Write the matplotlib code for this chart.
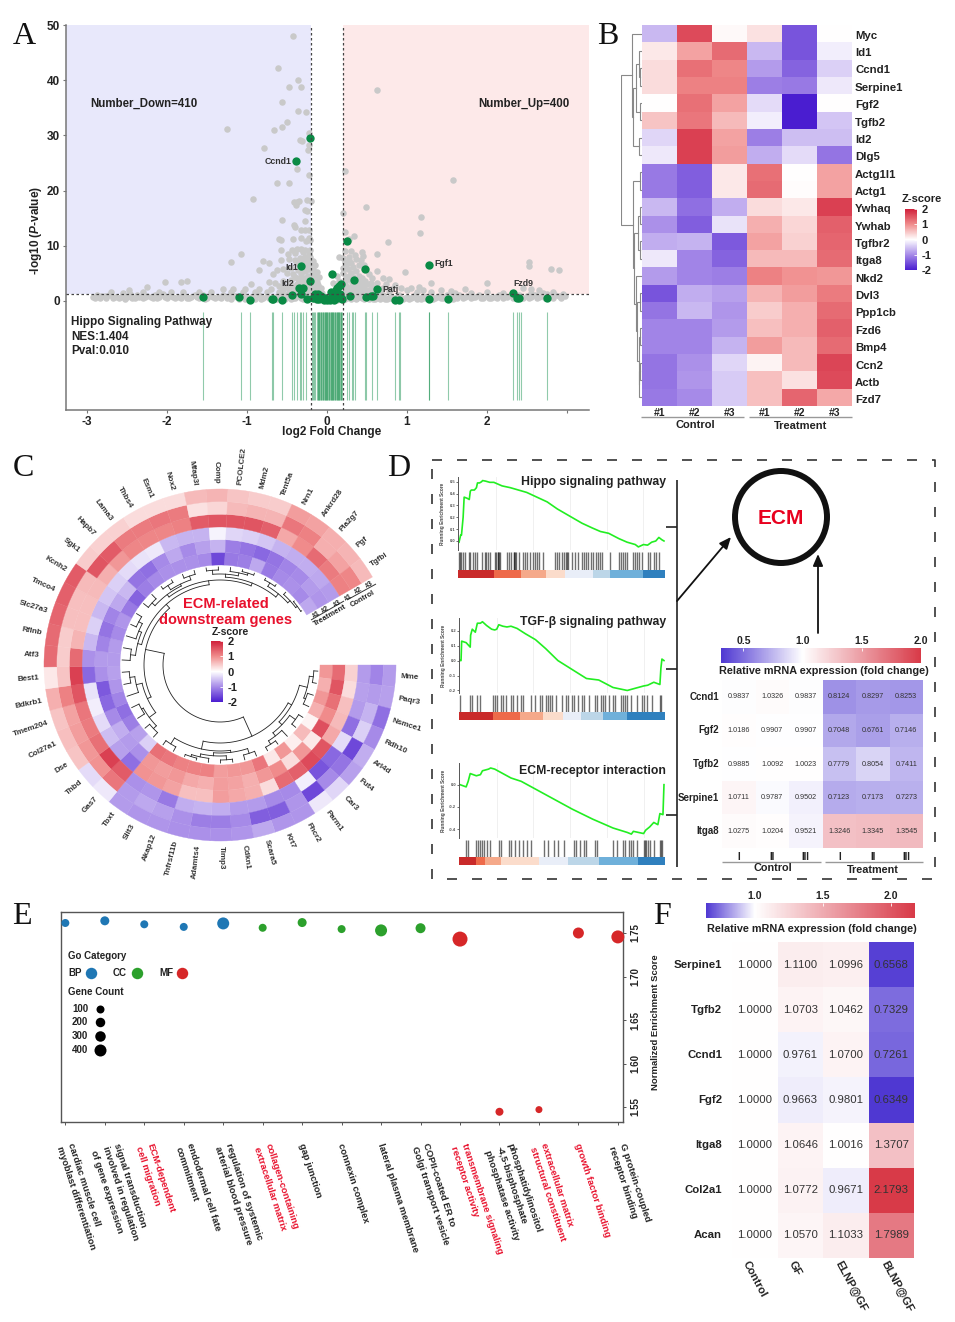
import numpy as np
import matplotlib
matplotlib.use("Agg")
import matplotlib.pyplot as plt
from matplotlib.colors import LinearSegmentedColormap, TwoSlopeNorm, Normalize
from matplotlib.cm import ScalarMappable
from matplotlib.patches import Rectangle, Circle

W, H = 955, 1322
plt.rcParams['font.family'] = ['Liberation Sans', 'DejaVu Sans']
plt.rcParams['font.weight'] = 'bold'
plt.rcParams['axes.unicode_minus'] = False
plt.rcParams['mathtext.fontset'] = 'custom'
plt.rcParams['mathtext.rm'] = 'Liberation Sans:bold'
plt.rcParams['mathtext.it'] = 'Liberation Sans:italic:bold'
plt.rcParams['mathtext.bf'] = 'Liberation Sans:bold'
TXT = '#222222'

# ---------- Panel A data ----------
green_pts = [(-1.55,.8),(-1.10,.7),(-.96,.25),(-.69,.35),(-.68,.3),(-.56,.25),(-.44,1.0),(-.39,25.3),(-.33,6.4),(-.35,2.3),
             (-.30,2.4),(-.32,1.2),(-.25,.35),(-.21,29.5),(-.21,3.7),(.06,4.9),(.25,10.8),(.48,5.8),(.34,3.8),(.63,2.1),
             (.49,.8),(.55,.9),(.58,.95),(.29,.9),(1.27,6.5),(1.28,.35),(1.51,.4),(2.32,1.45),(2.37,.5),(2.40,.5),(2.75,.6),
             (.85,.25),(.90,.25),(-.17,.5),(-.15,1.3),(-.13,.4),(-.11,1.2),(-.10,.3),(-.08,.9),(-.06,.5),(-.04,.2),(-.02,.6),
             (0,.1),(.02,.3),(.04,.2),(.05,1.7),(.07,.4),(.08,1.2),(.09,.2),(.11,2.0),(.12,.5),(.13,2.4),(.15,2.7),(.17,3.0),
             (.18,.6),(.19,.3),(.16,1.2)]
gray_pts = [(-.42,48),(-.61,42.3),(-.36,40),(-.47,38.7),(-.32,38.7),(.62,38.2),(-.56,36),(-.36,34.5),(-.26,34.2),(-.5,32.5),
            (-.56,31.5),(-.66,31),(-1.25,31.2),(-.23,30.4),(-.34,29.1),(-.31,28.9),(-.79,27.7),(-.23,28.2),(-.24,27.3),(-.38,24),
            (.22,23.5),(-.23,22.8),(-.62,21.4),(-.47,21.3),(1.58,21.9),(-.92,18.4),(-.41,17.9),(-.38,18),(-.35,18.2),(-.25,18.3),
            (-.2,18.2),(-.39,17.4),(-.27,16.4),(-.25,16.3),(.2,16),(.49,17),(1.17,15.2),(1.16,12.3),(-.56,14.7),(-.27,14.5),
            (-.41,13.8),(-.4,13.4),(-.32,12.8),(-.27,12.8),(-.22,12.8),(.22,12.5),(-.22,11.5),(-.6,11.3),(-.58,11),(-.42,11.3),
            (-.32,11.4),(-.26,10.9),(-.21,11),(.34,11.7),(.28,11.2),(.76,10.7),(-.58,9.2),(-.44,9.3),(-.38,9.4),(-.33,9.4),
            (-.27,9.3),(-.21,9.2),(-.49,8.6),(-.4,8.7),(-.3,8.8),(-.23,8.6),(-1.07,8.5),(-1.2,7),(.62,8.6),(.44,8.8),(.3,9),
            (.22,9),(.35,8.4),(.45,8.2),(.27,8),(.15,8),(.2,7.8),(-.8,7.2),(-.72,6.8),(-.58,7.5),(-.48,7.6),(-.4,7.4),(-.3,7.5),
            (-.24,7.6),(-.18,7.2),(-.15,6.6),(-.37,6.8),(-.28,6.5),(-.2,6.2),(-.85,5.7),(-.62,5.6),(-.55,5.8),(-.45,6),(-.36,5.6),
            (-.27,5.4),(-.19,5.4),(-.13,5.2),(-.68,4.9),(-.5,5),(-.42,4.9),(-.33,4.8),(-.24,4.6),(-.16,4.6),(-.1,4.4),(.13,4.5),
            (.2,5),(.26,5.8),(.33,6.2),(.4,6.6),(.46,6.5),(.63,5.4),(.98,5.3),(.3,5),(.4,4.6),(.52,4.8),(.56,4.2),(.7,4.2),(.78,3.9),
            (1.3,3.3),(2.0,3.2),(-1.75,3.6),(-1.82,3.4),(-2.02,3.4),(-2.25,2.5),(-.95,3),(-.72,3.4),(-.65,3.2),(-.55,3.6),(-.45,3.8),
            (-.36,3.9),(-.28,3.5),(-.18,3.6),(-.12,3.4),(.08,3.3),(.15,3.6),(.23,3.4),(.28,3.9),(.4,3.6),(.48,3.6),(.55,3.3),(.62,3.2),
            (.74,3),(.85,2.9),(.93,2.3),(1.05,2.3),(1.15,2.6),(-.6,2.8),(-.5,2.6),(-.42,2.8),(-.25,2.8),(-.14,2.6),(-.08,2.4),(.24,2.7),
            (.33,2.6),(.44,2.8),(.56,2.6),(.7,2.4),(.8,2.2),(-1.3,2.2),(-1.18,2.1),(-1.02,2.2),(-.85,2.2),(-.7,2.1),(-.55,2.1),(-.38,2.2),
            (-.2,2.2),(.26,2),(.4,2.1),(.52,2),(.66,1.9),(.78,1.8),(1,1.9),(1.2,2),(1.42,2),(1.55,1.8),(1.73,2.2),(2.45,2.4),(2.55,2.1),
            (2.65,1.9),(2.52,7),(2.52,6.4),(2.8,5.8),(2.9,5.7),(2.82,1.6),(-2.48,1.9),(-2.7,1.6),(-2.55,1.5),(-2.3,1.7),(-2.1,1.6),(-1.95,1.6),
            (-1.8,1.7),(-1.6,1.7),(-1.45,1.6),(-1.2,1.7),(-1.05,1.6),(-.9,1.7),(-.75,1.7),(-.6,1.6),(-.48,1.7),(1.12,1.6),(1.3,1.6),(1.6,1.5),
            (1.8,1.5),(2.0,1.6),(2.2,1.5),(2.55,1.5),(2.7,1.5),
            (-2.92,.7),(-2.88,1.0),(-2.84,.6),(-2.78,.9),(-2.72,1.1),(-2.65,.8),(-2.6,.6),(-2.55,1.0),(-2.5,.7),(-2.46,1.2),(-2.4,.6),(-2.35,.8),
            (-2.3,.5),(-2.25,.9),(-2.2,.7),(-2.15,1.1),(-2.1,.8),(-2.05,1.2),(-2.0,.6),(-1.95,.9),(-1.9,.5),(-1.85,.7),(-1.8,1.0),(-1.75,.6),
            (-1.7,.8),(-1.65,1.1),(-1.6,.5),(-1.55,1.0),(-1.5,.6),(-1.45,.9),(-1.4,.5),(-1.35,.8),(-1.3,1.1),(-1.25,.6),(-1.2,.4),(-1.15,.9),
            (-1.1,.4),(-1.05,1.0),(-1.0,.5),(-.95,.8),(-.9,.3),(-.85,1.1),(-.8,.5),(-.75,.9),(-.7,.3),(-.65,.7),(-.6,1.1),(-.55,.5),(-.5,.8),
            (-.45,.3),(-.4,.6),(-.35,.9),(-.3,.3),(-.25,1.0),(-.2,.5),(-.18,.9),(-.14,.2),(-.1,.6),(-.06,.9),(-.02,.25),(.03,.7),(.06,.25),
            (.1,.9),(.14,.3),(.18,1.0),(.22,.4),(.26,.7),(.3,.3),(.34,1.0),(.38,.5),(.42,.9),(.46,.3),(.5,.5),(.54,1.1),(.58,.3),(.62,.7),
            (.66,.4),(.7,1.0),(.75,.4),(.8,.8),(.85,.5),(.9,1.1),(.95,.4),(1.0,.8),(1.05,.5),(1.1,1.1),(1.15,.6),(1.2,.9),(1.25,.5),(1.3,1.0),
            (1.35,.6),(1.4,.9),(1.45,.5),(1.5,1.1),(1.55,.6),(1.6,.8),(1.65,1.1),(1.7,.6),(1.75,.9),(1.8,.5),(1.85,.8),(1.9,1.1),(1.95,.6),
            (2.0,.9),(2.05,.5),(2.1,.8),(2.15,1.0),(2.2,.6),(2.25,.7),(2.3,1.0),(2.35,.7),(2.4,1.0),(2.45,.6),(2.5,.9),(2.55,.7),(2.6,1.1),
            (2.65,.7),(2.7,.9),(2.75,1.2),(2.8,.8),(2.85,1.1),(2.9,.9),(2.95,1.3),(2.98,.9)]
gray_extra = [(-2.9,.5),(-2.82,.9),(-2.76,.5),(-2.68,.6),(-2.58,.8),(-2.52,.4),(-2.44,.5),(-2.38,1.0),(-2.28,.7),(-2.18,.5),(-2.12,.5),(-2.02,.8),
              (-1.92,.7),(-1.82,.5),(-1.72,.5),(-1.62,.8),(-1.52,.4),(-1.42,.7),(-1.32,.5),(-1.22,.8),(-1.12,.8),(-1.02,.3),(-.92,.8),(-.82,.3),(-.72,.6),
              (-.62,.4),(-.52,.3),(-.42,.5),(-.32,.6),(-.22,.3),(-.16,.4),(-.12,.8),(-.08,.3),(-.04,.7),(.01,.3),(.08,.6),(.12,.2),(.16,.5),(.2,.2),(.24,1.0),
              (.28,.5),(.32,.7),(.36,.3),(.4,.7),(.44,.5),(.48,1.1),(.52,.3),(.56,.6),(.6,.4),(.64,1.0),(.68,.7),(.72,.3),(.78,.6),(.82,.3),(.88,.8),(.92,.3),
              (.98,.5),(1.02,.3),(1.08,.8),(1.12,.4),(1.18,.4),(1.22,.6),(1.32,.4),(1.38,.8),(1.42,.5),(1.48,.7),(1.58,.4),(1.62,.6),(1.72,.8),(1.82,.7),(1.92,.5),
              (2.02,.6),(2.12,.5),(2.22,.9),(2.32,.5),(2.42,.7),(2.52,.5),(2.62,.6),(2.72,.6),(2.82,.6),(2.92,.6),
              (-.55,1.3),(-.48,1.4),(-.42,1.6),(-.36,1.5),(-.3,1.7),(-.26,1.4),(-.22,1.7),(-.18,1.5),(-.14,1.8),(-.1,1.5),(-.06,1.4),(.22,1.4),(.26,1.6),(.3,1.5),
              (.34,1.8),(.38,1.4),(.42,1.6),(.46,1.4),(.5,1.7),(.55,1.5),(.6,1.5),(.68,1.5),(-.38,3.1),(-.32,3.2),(-.26,3.1),(-.2,3),(-.16,2.9),(-.11,2.9),
              (-.46,3.2),(-.34,4.2),(-.28,4.1),(-.2,4.2),(-.15,3.9),(-.4,4.4),(-.24,5.8),(-.17,5.8),(-.3,5.9),(-.26,6.9),(-.2,6.9),(-.34,7.8),(-.27,8),(-.21,8),
              (.22,2.4),(.27,2.4),(.31,3.2),(.36,3),(.42,3.1),(.5,3.1),(.24,4.3),(.27,4.6),(.33,4.3),(.44,4.1),(.2,6),(.24,6.5),(.3,6.8),(.36,5.5),(.22,7),(.28,7.4),(.36,7.6),
              (.42,7.4),(-.15,2.1),(-.1,2.1),(.3,2.2),(.36,2.3),(.46,2.3),(-.55,2.4),(-.47,2.3),(-.33,2.5),(-.28,2.2)]
rug_x = [-1.55,-1.08,-.96,-.69,-.68,-.56,-.44,-.41,-.38,-.34,-.33,-.30,-.26,-.19,-.18,-.165,-.15,-.13,-.115,-.11,-.10,-.095,-.085,-.08,
         -.07,-.065,-.05,-.045,-.04,-.03,-.02,-.015,-.01,0,.005,.015,.02,.03,.035,.045,.05,.06,.065,.07,.08,.085,.095,.10,.11,.12,.125,
         .135,.14,.15,.155,.165,.17,.18,.19,.25,.28,.31,.33,.35,.48,.49,.56,.63,.85,.90,.91,1.27,1.28,1.51,2.32,2.37,2.40,2.42,2.75]
volcano_labels = [('Ccnd1',278,161),('Id1',292,267),('Id2',288,283),('Patj',390,289),('Fgf1',444,264),('Fzd9',523,284)]

# ---------- Panel B data ----------
b_genes = ['Myc','Id1','Ccnd1','Serpine1','Fgf2','Tgfb2','Id2','Dlg5','Actg1l1','Actg1','Ywhaq','Ywhab','Tgfbr2','Itga8','Nkd2',
           'Dvl3','Ppp1cb','Fzd6','Bmp4','Ccn2','Actb','Fzd7']
b_vals = [[-.6,1.6,.05,.25,-1.5,0],[.2,.8,1.3,-.6,-1.5,-.15],[.3,1.25,1.05,-.85,-1.35,-.4],[.3,1.1,1.1,-1.1,-1.15,-.2],
          [0,1.25,.8,-.3,-2,0],[.5,1.2,.6,-.15,-2,-.5],[-.35,1.7,.8,-1.1,-.55,-.55],[-.2,1.7,.85,-.7,-.3,-1.2],
          [-1.15,-1.4,.2,1.25,0,.8],[-1.15,-1.4,.2,1.3,.02,.8],[-.6,-1.25,-.7,.3,.2,1.7],[-.95,-1.4,-.25,.7,.35,1.4],
          [-.7,-.65,-1.45,.8,.4,1.35],[-.2,-1.05,-1.35,.6,.6,1.3],[-.85,-1.05,-1.1,1.1,.95,.9],[-1.5,-.7,-.8,.65,.85,1.15],
          [-1.2,-.6,-.9,.45,.7,1.3],[-1.05,-1.05,-.85,.55,.7,1.4],[-1.05,-1.05,-.65,.85,.6,1.3],[-1.2,-.95,-.35,.1,.6,1.65],
          [-1.2,-.9,-.45,.55,.25,1.6],[-1.15,-1,-.45,.55,1.35,.75]]
b_tree = (1.0,(.48,0,(.42,(.3,(.12,1,(.1,2,3)),(.1,4,5)),(.12,6,7))),
          (.45,(.08,8,9),(.38,(.2,(.1,10,11),(.1,12,13)),(.3,14,(.22,(.1,15,16),(.15,(.08,17,18),(.12,(.1,19,20),21)))))))

# ---------- Panel C data ----------
c_genes = ['Mme','Paqr3','Nsmce1','Rdh10','Arl4d','Fut4','Car3','Parm1','Fhcr2','Krt7','Scara5','Cdkn1','Timp3','Adamts4','Tnfrsf11b',
           'Akap12','Slit3','Tbxt','Gas7','Thbd','Dse','Col27a1','Tmem204','Bdkrb1','Best1','Atf3','Rflnb','Slc27a3','Tmco4','Kcnh2',
           'Sgk1','Hapb7','Lama3','Thbs4','Esm1','Nox2','Mfap3l','Comp','PCOLCE2','Mdm2','Tent5a','Nrn1','Ankrd28','Pla2g7','Pgf','Tgfbi']
c_vals = [[.9,1.3,.4,-.85,-1.05,-.85],[.7,1.5,.3,-.8,-.85,-.8],[.9,1.25,.55,-.85,-.65,-1.25],[.7,1.0,.6,-1.25,-.4,-1.0],
          [.1,1.55,.75,-.3,-1.6,-.7],[.6,.2,1.5,-1.3,-1.2,-.8],[.15,.9,1.6,-1.5,-1.0,-.35],[.9,.3,1.4,-.15,-1.6,-.2],
          [.2,1.0,1.3,-1.0,-.9,-.9],[1.2,.9,.3,-1.0,-1.4,-.9],[.9,.7,.7,-.85,-1.4,-.75],[.9,.8,.75,-.85,-1.0,-.9],
          [.85,.85,.85,-.7,-1.1,-.95],[1.1,.7,.55,-.65,-1.1,-.95],[1.1,.75,.55,-.7,-.95,-.95],[1.1,.9,.8,-1.15,-.8,-.9],
          [1.2,.85,.9,-.9,-.75,-.9],[1.25,.9,.95,-.95,-.85,-.85],[-.4,-.95,-1.25,1.45,1.2,-.2],[-.8,-.85,-.8,1.7,.95,-.3],
          [-1.1,-.7,-.55,1.25,.9,.5],[-1.25,-1.0,-.3,1.15,.85,.55],[-1.05,-1.3,-.15,1.2,.8,.5],[-.9,-1.45,-.25,1.5,1.1,.7],
          [-.8,-.95,-1.3,1.7,.5,.2],[-.85,-.85,-.95,1.3,.45,1.3],[-.85,-1.05,-.6,.65,.45,1.3],[-1.0,-1.2,-.4,.55,.55,1.35],
          [-.9,-1.05,-.6,.55,.55,1.4],[-1.15,-.75,-.5,.6,.6,1.45],[-1.35,-.6,-.4,.7,1.5,.45],[-1.1,-1.2,-.3,.9,1.45,.4],
          [-1.0,-1.25,-.25,1.05,1.15,.4],[-.95,-1.0,-.2,1.05,1.15,.3],[-.95,-.75,-.6,1.05,1.2,.3],[-.95,-1.0,-.65,1.1,1.15,.3],
          [-1.0,-.8,-.65,1.45,.25,.6],[-1.6,-.65,-.1,1.5,.35,.65],[-1.15,-1.1,-.35,1.5,.6,.5],[-1.1,-1.2,-.4,1.5,.65,.45],
          [-.75,-1.3,-.5,1.4,.65,.45],[-1.15,-1.2,-.65,.75,1.2,.85],[-1.0,-1.05,-.7,1.0,1.1,.8],[-.95,-1.0,-.7,1.3,.7,.7],
          [-1.0,-.85,-.75,1.15,.8,.65],[-.75,-.9,-.85,1.1,1.05,.6]]
c_tree = (57,(78,(82,(90,(94,0,1),(92,2,3)),(86,(93,4,5),(90,6,(94,7,8)))),
              (86,(88,(93,9,10),(91,(95,11,12),(94,13,(96,14,15)))),(93,16,17))),
          (76,(80,(88,(92,18,19),(90,20,21)),(86,22,(91,23,24))),
              (81,(85,(90,25,26),(88,27,(92,28,29))),
                  (85,(88,(92,30,31),(90,(95,32,33),(94,34,35))),
                      (88,(91,(95,36,37),(94,38,(96,39,40))),(92,(96,41,42),(95,43,(97,44,45))))))))

# ---------- Panel D data ----------
gsea_titles = ['Hippo signaling pathway','TGF-\u03b2 signaling pathway','ECM-receptor interaction']
es1 = [(0,-.01),(.008,.05),(.012,.05),(.02,.2),(.025,.37),(.04,.36),(.05,.35),(.055,.42),(.06,.43),(.075,.43),(.085,.45),(.09,.49),(.1,.49),
       (.11,.5),(.115,.51),(.13,.505),(.15,.495),(.17,.495),(.19,.48),(.21,.465),(.25,.45),(.29,.43),(.33,.41),(.38,.37),(.43,.33),(.48,.27),
       (.55,.2),(.6,.15),(.65,.11),(.69,.08),(.73,.065),(.78,.02),(.82,-.01),(.86,-.03),(.875,-.05),(.9,-.03),(.92,-.035),(.94,-.01),(.96,0),
       (.975,.03),(.99,.01),(1,0)]
es2 = [(0,0),(.005,0),(.008,.13),(.03,.12),(.05,.09),(.052,.17),(.06,.21),(.075,.19),(.085,.25),(.1,.25),(.11,.26),(.13,.235),(.155,.21),
       (.17,.205),(.18,.21),(.19,.24),(.21,.23),(.23,.225),(.25,.23),(.28,.215),(.32,.18),(.37,.14),(.42,.08),(.48,0),(.55,-.06),(.62,-.12),
       (.68,-.13),(.75,-.18),(.82,-.2),(.86,-.185),(.9,-.17),(.92,-.165),(.95,-.145),(.98,-.16),(.985,-.05),(.99,.01),(1,0)]
es3 = [(0,0),(.03,-.02),(.04,.03),(.05,.1),(.08,.08),(.1,.09),(.11,.125),(.14,.14),(.15,.15),(.17,.14),(.2,.11),(.25,.06),(.3,.03),(.35,-.02),
       (.45,-.12),(.55,-.22),(.65,-.31),(.75,-.39),(.82,-.43),(.84,-.445),(.85,-.42),(.9,-.44),(.91,-.41),(.93,-.38),(.95,-.34),(.97,-.36),
       (.98,-.26),(.995,-.27),(1,0)]
rug1 = [.0,.005,.01,.02,.03,.05,.055,.07,.08,.09,.11,.125,.13,.14,.15,.175,.18,.19,.195,.2,.19,.235,.245,.255,.27,.275,.28,.27,.295,.31,.32,.33,.345,
        .36,.37,.38,.39,.41,.47,.48,.49,.5,.51,.52,.525,.53,.55,.565,.58,.6,.61,.62,.63,.645,.655,.67,.68,.69,.7,.735,.78,.79,.8,.81,.82,.85,.86,
        .87,.88,.895,.92,.93,.95,.96,.975]
rug2 = [.0,.05,.06,.085,.1,.16,.17,.18,.2,.21,.225,.25,.26,.28,.3,.31,.35,.37,.39,.4,.42,.43,.44,.45,.47,.5,.52,.53,.55,.56,.58,.6,.61,.63,.66,.67,.69,
        .7,.71,.73,.75,.76,.79,.8,.81,.82,.84,.87,.89,.9,.915,.94,.98,.985]
rug3 = [.03,.04,.08,.09,.1,.11,.12,.13,.145,.19,.2,.24,.25,.27,.29,.31,.33,.35,.41,.43,.46,.48,.51,.56,.57,.59,.61,.62,.66,.67,.75,.77,.8,.81,.83,.84,
        .85,.87,.9,.905,.91,.92,.93,.95,.98,.985,.99]
bar_colors = ['#c92a2a','#ee6a4a','#f5a98a','#fbdccb','#e9eef8','#bcd6e8','#6fb0da','#2f80be']
bar_edges1 = [0,.175,.306,.427,.516,.653,.734,.895,1]
bar_edges2 = [0,.165,.295,.408,.506,.59,.697,.814,1]
bar_edges3 = [0,.084,.125,.206,.39,.53,.68,.87,1]
d_rows = ['Ccnd1','Fgf2','Tgfb2','Serpine1','Itga8']
d_vals = [[.9837,1.0326,.9837,.8124,.8297,.8253],[1.0186,.9907,.9907,.7048,.6761,.7146],[.9885,1.0092,1.0023,.7779,.8054,.7411],
          [1.0711,.9787,.9502,.7123,.7173,.7273],[1.0275,1.0204,.9521,1.3246,1.3345,1.3545]]
d_shade = [[.99,1.02,.99,.62,.65,.64],[1.01,.995,.995,.70,.67,.72],[.995,1.005,1.0,.78,.85,.75],
           [1.05,.98,.95,.71,.72,.73],[1.02,1.015,.96,1.32,1.33,1.35]]
d_cols = ['I','II','III','I','II','III']

# ---------- Panel E data ----------
e_terms = ['cardiac muscle cell\nmyoblast differentiation','signal transduction\ninvolved in regulation\nof gene expression',
           'ECM-dependent\ncell migration','endodermal cell fate\ncommitment','regulation of systemic\narterial blood pressure',
           'collagen-containing\nextracellular matrix','gap junction','connexin complex','lateral plasma membrane',
           'COPII-coated ER to\nGolgi transport vesicle','transmembrane signaling\nreceptor activity',
           'phosphatidylinositol\n-4,5-bisphosphate\nphosphatase activity','extracellular matrix\nstructural constituent',
           'growth factor binding','G protein-coupled\nreceptor binding']
e_nes = [1.7615,1.7640,1.7600,1.7570,1.7610,1.7560,1.7620,1.7545,1.7530,1.7555,1.7430,1.5445,1.5470,1.7500,1.7455]
e_diam = [8,9,8,8,12,8,9,8,12,10,15,8,7,11,13]
e_cat = ['BP']*5+['CC']*5+['MF']*5
e_red = [2,5,10,12,13]
cat_col = {'BP':'#1f77b4','CC':'#2ca02c','MF':'#d62728'}

# ---------- Panel F data ----------
f_rows = ['Serpine1','Tgfb2','Ccnd1','Fgf2','Itga8','Col2a1','Acan']
f_cols = ['Control','GF','ELNP@GF','BLNP@GF']
f_vals = [[1,1.11,1.0996,.6568],[1,1.0703,1.0462,.7329],[1,.9761,1.07,.7261],[1,.9663,.9801,.6349],[1,1.0646,1.0016,1.3707],
          [1,1.0772,.9671,2.1793],[1,1.057,1.1033,1.7989]]

# ---------- helpers ----------
fig = plt.figure(figsize=(W/100, H/100), dpi=100, facecolor='white')
def axpx(l, t, r, b, **kw):
    return fig.add_axes([l/W, 1-b/H, (r-l)/W, (b-t)/H], **kw)
ov = fig.add_axes([0, 0, 1, 1], zorder=20)
ov.set_xlim(0, W); ov.set_ylim(H, 0); ov.axis('off'); ov.patch.set_alpha(0)
def T(x, y, s, size=8, ha='center', va='center', color=TXT, rot=0, weight='bold', **kw):
    return ov.text(x, y, s, fontsize=size, ha=ha, va=va, color=color, rotation=rot, fontweight=weight, rotation_mode='anchor', **kw)
def L(xs, ys, color='#333333', lw=1, **kw):
    ov.plot(xs, ys, color=color, lw=lw, solid_capstyle='butt', **kw)
def arrow(x0, y0, x1, y1):
    ov.annotate('', xy=(x1, y1), xytext=(x0, y0),
                arrowprops=dict(arrowstyle='-|>,head_length=0.7,head_width=0.3', color='#111111', lw=1.3, shrinkA=0, shrinkB=0))
for s, x, y in [('A',24,36),('B',608,36),('C',23,468),('D',399,468),('E',22,917),('F',662,917)]:
    T(x, y, s, size=23, color='#111111', weight='normal', family='Liberation Serif')

zcmap = LinearSegmentedColormap.from_list('z', ['#4a1dd0', '#a68ae8', '#ffffff', '#f08c8c', '#d0203a'])
fcmap = LinearSegmentedColormap.from_list('f', ['#4f38d2', '#ffffff', '#d83a48'])

def vbar(l, t, r, b, ticks):
    cax = axpx(l, t, r, b)
    cb = fig.colorbar(ScalarMappable(Normalize(-2, 2), zcmap), cax=cax)
    cb.set_ticks(ticks)
    cb.outline.set_visible(False)
    cax.tick_params(length=2.5, direction='in', color='white', width=.6, labelsize=8, pad=3, labelcolor=TXT)
def hbar(l, t, r, b, norm, ticks, labels):
    cax = axpx(l, t, r, b)
    cb = fig.colorbar(ScalarMappable(norm, fcmap), cax=cax, orientation='horizontal')
    cax.xaxis.set_ticks_position('top')
    cb.set_ticks(ticks); cb.set_ticklabels(labels)
    cb.ax.set_xscale('linear')
    cb.outline.set_visible(False)
    cax.tick_params(length=2.5, direction='in', color='white', width=.6, labelsize=7.5, pad=1.5, labelcolor=TXT)

def dendro(node, emit):
    if not isinstance(node, tuple):
        return float(node), None
    h, a, b = node
    pa, ha = dendro(a, emit); pb, hb = dendro(b, emit)
    emit(pa, ha, pb, hb, h)
    return (pa+pb)/2, h

# ---------- Panel A ----------
ax = axpx(66, 25, 589, 410)
ax.set_xlim(-3.2625, 3.275); ax.set_ylim(-19.75, 50)
ax.add_patch(Rectangle((-3.2625, 1.3), 3.0625, 48.7, color='#e8e8fb', lw=0, zorder=0))
ax.add_patch(Rectangle((.2, 1.3), 3.075, 48.7, color='#fde9e9', lw=0, zorder=0))
ax.scatter(*zip(*(gray_pts+gray_extra)), s=22, color='#c9c9c9', lw=0, zorder=2)
ax.vlines(rug_x, -17.9, -2, color='#0a8a45', lw=.8, alpha=.45, zorder=2)
ax.scatter(*zip(*green_pts), s=36, color='#0a8a45', lw=0, zorder=3)
for v in (-.2, .2):
    ax.axvline(v, color='#444444', lw=.9, ls=(0, (2, 2)), zorder=4)
ax.axhline(1.3, color='#444444', lw=.9, ls=(0, (2, 2)), zorder=4)
for s in ('top', 'right'):
    ax.spines[s].set_visible(False)
for s in ('left', 'bottom'):
    ax.spines[s].set_color('#777777'); ax.spines[s].set_linewidth(1.1)
ax.set_xticks([-3, -2, -1, 0, 1, 2, 3]); ax.set_xticklabels(['-3', '-2', '-1', '0', '1', '2', ''])
ax.set_yticks([0, 10, 20, 30, 40, 50])
ax.tick_params(labelsize=8.5, labelcolor=TXT, color='#777777', length=2.5, width=.8, pad=2)
T(36, 231, '-log10 ($\\mathit{P}$-value)', size=8.5, rot=90)
T(332, 432, 'log2 Fold Change', size=8.5)
T(90, 104, 'Number_Down=410', size=8.3, ha='left')
T(478, 104, 'Number_Up=400', size=8.3, ha='left')
T(71, 322, 'Hippo Signaling Pathway', size=8.5, ha='left')
T(71, 337, 'NES:1.404', size=8.5, ha='left')
T(71, 351, 'Pval:0.010', size=8.5, ha='left')
for s, x, y in volcano_labels:
    T(x, y, s, size=6.3, color='#333333')

# ---------- Panel B ----------
ax = axpx(642, 25, 852, 406)
ax.pcolormesh(np.array(b_vals), cmap=zcmap, vmin=-2, vmax=2)
ax.set_ylim(22, 0); ax.axis('off')
for i, g in enumerate(b_genes):
    T(855, 27+(i+.5)*382/22, g, size=8.2, ha='left')
dax = axpx(621, 25, 642, 406)
dax.set_xlim(1, 0); dax.set_ylim(22, 0); dax.axis('off')
def emit_b(pa, ha, pb, hb, h):
    ha = ha or 0; hb = hb or 0
    dax.plot([ha, h, h, hb], [pa+.5, pa+.5, pb+.5, pb+.5], color='#888888', lw=.8, solid_joinstyle='miter')
dendro(b_tree, emit_b)
for i, s in enumerate(['#1', '#2', '#3', '#1', '#2', '#3']):
    T(642+(i+.5)*35, 413, s, size=7.5)
L([641, 744], [417, 417], color='#999999'); L([749, 852], [417, 417], color='#999999')
T(695, 424.5, 'Control', size=8); T(801, 426, 'Treatment', size=8)
vbar(905, 209, 917, 270, [-2, -1, 0, 1, 2])
T(922, 199, 'Z-score', size=8)

# ---------- Panel C ----------
cpx, cpy, cR = 220, 665, 215
pax = axpx(cpx-cR, cpy-cR, cpx+cR, cpy+cR, projection='polar')
pax.set_theta_zero_location('E'); pax.set_theta_direction(-1)
pax.set_ylim(0, cR); pax.axis('off'); pax.patch.set_alpha(0)
n = len(c_genes)
dth = np.deg2rad(330/n)
c_arr = np.array(c_vals)
for i in range(n):
    for j in range(6):
        col = zcmap((c_arr[i, j]+2)/4)
        pax.bar((i+.5)*dth, 12.67, width=dth, bottom=100+j*12.67, color=col, edgecolor=col, lw=.25)
    ang = (i+.5)*330/n
    right = ang < 90 or ang > 270
    rot = -ang if right else 180-ang
    pax.text((i+.5)*dth, 181, c_genes[i], fontsize=5.8, color='#333333', rotation=rot, rotation_mode='anchor',
             ha='left' if right else 'right', va='center')
def emit_c(pa, ha, pb, hb, h):
    ha = ha or 98; hb = hb or 98
    ta, tb = (pa+.5)*dth, (pb+.5)*dth
    pax.plot([ta, ta], [ha, h], color='#222222', lw=.6)
    pax.plot([tb, tb], [hb, h], color='#222222', lw=.6)
    pax.plot(np.linspace(ta, tb, 40), [h]*40, color='#222222', lw=.6)
dendro(c_tree, emit_c)
T(226, 604, 'ECM-related', size=10.5, color='#e8112d')
T(226, 620, 'downstream genes', size=10.5, color='#e8112d')
T(230, 632, 'Z-score', size=7.5)
vbar(211, 641, 223, 702, [-2, -1, 0, 1, 2])
for s, x, y in [('#1',316,615),('#2',326,610),('#3',337,604),('#1',348,598),('#2',359,591),('#3',369,585)]:
    T(x, y, s, size=5, rot=30)
L([311, 344], [620, 601], lw=.7); L([347, 376], [600, 584], lw=.7)
T(330, 615, 'Treatment', size=5.5, rot=30); T(363, 599, 'Control', size=5.5, rot=30)

# ---------- Panel D ----------
ov.plot([432, 935, 935, 432, 432], [460, 460, 879, 879, 460], color='#333333', lw=1.2, ls=(0, (6, 9)))
L([677, 677], [480, 867], color='#222222', lw=1.2)
for y in (527, 669, 815):
    L([666, 677], [y, y], color='#222222', lw=1.2)
arrow(677, 601, 731, 537)
arrow(818, 633, 818, 554)
ov.add_patch(Circle((781, 517), 46, fill=False, ec='#111111', lw=4.3))
T(781, 518, 'ECM', size=15, color='#e8001e')
boxes = [(458, 477, 550, 552, 570, 577.5, (-.076, .54), [0, .1, .2, .3, .4, .5], es1, rug1, bar_edges1, 482),
         (459, 618, 693, 695, 712, 720, (-.217, .285), [-.2, -.1, 0, .1, .2], es2, rug2, bar_edges2, 622),
         (459, 763, 838, 840, 857, 865, (-.48, .195), [-.4, -.2, 0], es3, rug3, bar_edges3, 771)]
for k, (l, t, b, rt, rb, bb, yl, yt, es, rug, edges, ty) in enumerate(boxes):
    a = axpx(l, t, 665, b)
    a.set_xlim(-.005, 1.005); a.set_ylim(*yl)
    a.plot(*zip(*es), color='#22ee22', lw=1.2)
    a.set_xticks([.18, .36, .54, .72, .9]); a.set_xticklabels([])
    a.tick_params(axis='x', length=0)
    a.grid(axis='x', color='#eeeeee', lw=.6)
    for s in ('top', 'right', 'bottom'):
        a.spines[s].set_visible(False)
    a.spines['left'].set_color('#555555'); a.spines['left'].set_linewidth(.7)
    a.set_yticks(yt); a.set_yticklabels(['%.1f' % v for v in yt], fontsize=3, color='#555555')
    a.tick_params(axis='y', length=1.2, width=.4, pad=.8)
    T(l-16, (t+b)/2, 'Running Enrichment Score', size=3.4, rot=90, color='#444444')
    r = axpx(l, rt, 665, rb); r.set_xlim(-.005, 1.005); r.set_ylim(0, 1); r.axis('off')
    r.vlines(rug, 0, 1, color='#111111', lw=1.0, alpha=.6)
    c = axpx(l, rb, 665, bb); c.set_xlim(0, 1); c.set_ylim(0, 1); c.axis('off')
    for e0, e1, col in zip(edges[:-1], edges[1:], bar_colors):
        c.axvspan(e0, e1, color=col, lw=0)
    T(666, ty, gsea_titles[k], size=8.8, ha='right')
dnorm = TwoSlopeNorm(1.0, .31, 2.0)
hbar(721, 648, 921, 663, dnorm, [.5, 1, 1.5, 2], ['0.5', '1.0', '1.5', '2.0'])
T(824, 671.5, 'Relative mRNA expression (fold change)', size=7.8)
ax = axpx(722, 680, 923, 848)
ax.pcolormesh(np.array(d_shade), cmap=fcmap, norm=dnorm)
ax.set_ylim(5, 0); ax.axis('off')
for i, g in enumerate(d_rows):
    T(719, 680+(i+.5)*33.6, g, size=7, ha='right')
    for j in range(6):
        ax.text(j+.5, i+.5, '%.4f' % d_vals[i][j], fontsize=5.2, ha='center', va='center', color='#333333', fontweight='normal')
for j, s in enumerate(d_cols):
    T(722+(j+.5)*33.5, 857, s, size=7)
L([722, 821], [862, 862], color='#999999'); L([825, 923], [862, 862], color='#999999')
T(773, 868, 'Control', size=7.8); T(873, 870, 'Treatment', size=7.8)

# ---------- Panel E ----------
ax = axpx(61, 912, 623, 1122)
ax.set_xlim(-.11, 14.13)
ax.set_ylim(1.75-(1122-933)/870, 1.75+(933-912)/870)
xs = np.arange(15)
ax.scatter(xs, e_nes, s=[(d*.72)**2 for d in e_diam], c=[cat_col[c] for c in e_cat], lw=0, zorder=3, clip_on=False)
ax.yaxis.tick_right()
ax.set_yticks([1.55, 1.6, 1.65, 1.7, 1.75])
ax.set_yticklabels(['1.55', '1.60', '1.65', '1.70', '1.75'], rotation=90, va='center', fontsize=7, color=TXT)
ax.set_xticks(xs); ax.set_xticklabels([])
ax.tick_params(length=2.5, width=.7, color='#555555', pad=3)
for s in ax.spines.values():
    s.set_color('#555555'); s.set_linewidth(1)
for i, t in enumerate(e_terms):
    px = 65 + i*39.4
    dx = {1: 4, 2: 10, 3: 16}[t.count('\n')+1]
    T(px+dx, 1142, t, size=6.8, ha='left', va='top', rot=-72, color='#e8112d' if i in e_red else TXT,
      multialignment='left', linespacing=1.4)
T(655, 1022, 'Normalized Enrichment Score', size=6.8, rot=90)
T(68, 956, 'Go Category', size=7, ha='left')
for s, x, dx, c in [('BP',68,91,'BP'),('CC',113,137,'CC'),('MF',159,182,'MF')]:
    T(x, 973, s, size=7, ha='left')
    ov.scatter([dx], [973], s=68, color=cat_col[c], lw=0)
T(68, 992, 'Gene Count', size=7, ha='left')
for s, y, d in [('100',1009,8),('200',1022,9.5),('300',1036,10.5),('400',1050,12)]:
    T(72, y, s, size=7, ha='left')
    ov.scatter([100], [y], s=(d*.72)**2, color='black', lw=0)

# ---------- Panel F ----------
fnorm = TwoSlopeNorm(1.0, .64, 2.18)
hbar(706, 903, 915, 918, fnorm, [1, 1.5, 2], ['1.0', '1.5', '2.0'])
T(812, 929.5, 'Relative mRNA expression (fold change)', size=7.8)
ax = axpx(732, 942, 914, 1258)
ax.pcolormesh(np.array(f_vals), cmap=fcmap, norm=fnorm)
ax.set_ylim(7, 0); ax.axis('off')
for i, g in enumerate(f_rows):
    T(722, 942+(i+.5)*45.14, g, size=8.2, ha='right')
    for j in range(4):
        ax.text(j+.5, i+.5, '%.4f' % f_vals[i][j], fontsize=8.2, ha='center', va='center', color='#333333', fontweight='normal')
for j, s in enumerate(f_cols):
    T(750+j*46, 1259, s, size=8, ha='left', va='top', rot=-62)

fig.savefig('out.png', dpi=100, facecolor='white')
